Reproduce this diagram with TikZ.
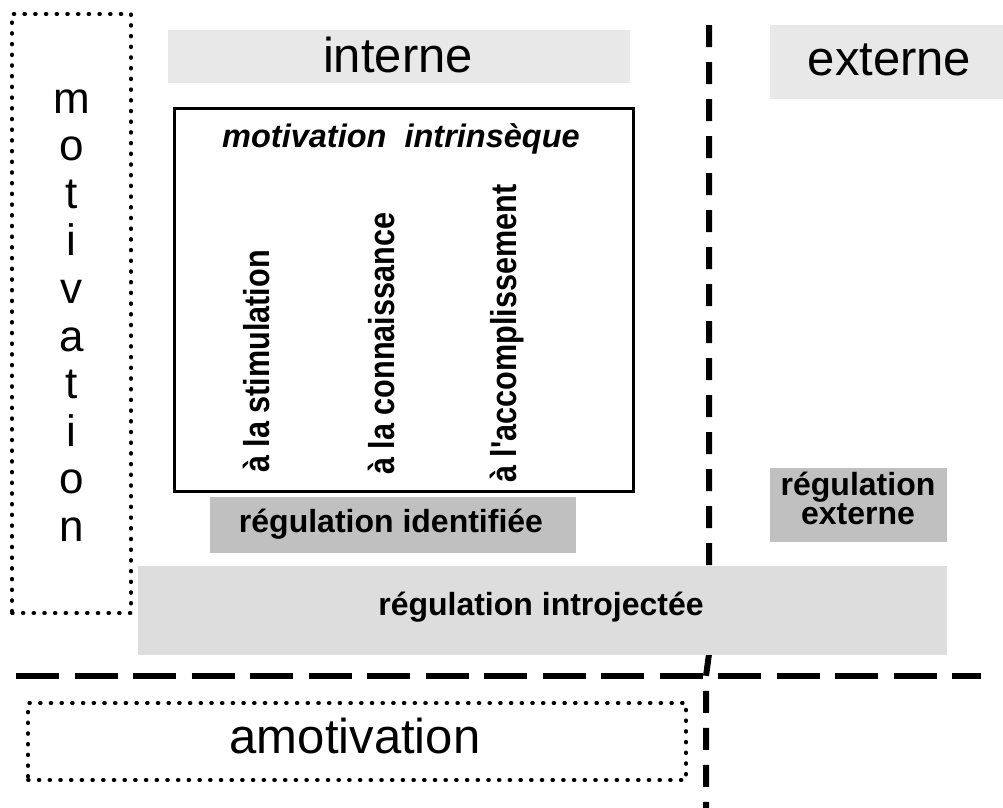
\documentclass[tikz,border=0pt]{standalone}
\usepackage{fontspec}
\setmainfont{Liberation Sans}
\definecolor{lightbox}{HTML}{E8E8E8}
\definecolor{midbox}{HTML}{DDDDDD}
\definecolor{darkbox}{HTML}{C0C0C0}
\begin{document}
\begin{tikzpicture}[x=1pt,y=-1pt,
  bigtxt/.style={inner sep=0pt, font=\fontsize{49}{52}\selectfont},
  boldtxt/.style={inner sep=0pt, font=\fontsize{32}{29}\selectfont\bfseries, align=center},
  vtxt/.style={inner sep=0pt, font=\fontsize{36}{38}\selectfont\bfseries, yscale=0.85, rotate=90, anchor=mid west},
  grayfill/.style={fill=#1, draw=none, inner sep=0pt},
  dotbox/.style={draw, line width=3.8pt, line cap=round, dash pattern=on 0.8pt off 9.9pt},
  hdash/.style={line width=6pt, dash pattern=on 43pt off 15.5pt},
  vdash/.style={line width=6pt, dash pattern=on 22pt off 15pt},
]
\useasboundingbox (0,0) rectangle (1003,807);
\fill[white] (0,0) rectangle (1003,807);

% dashed separators
\coordinate (h1) at (16,676);
\coordinate (h2) at (981,676);
\draw[hdash] (h1) -- (h2);
\coordinate (v1) at (709,25);
\coordinate (v2) at (709,654);
\coordinate (v3) at (706,676);
\coordinate (v4) at (706,820);
\draw[vdash] (v1) -- (v2) -- (v3) -- (v4);

% motivation dotted box
\node[dotbox, minimum width=119pt, minimum height=599pt, inner sep=0pt] (motbox) at (71.5,313.5) {};
\foreach \ch [count=\i from 0] in {m,o,t,i,v,a,t,i,o,n}
  \node[inner sep=0pt, font=\fontsize{44}{46}\selectfont, anchor=base] (mot\i) at (71.5,{113+47.6*\i}) {\ch};

% interne / externe
\node[grayfill=lightbox, minimum width=462pt, minimum height=53pt] (interne) at (399,56.5) {};
\node[bigtxt, anchor=base] (internetxt) at (398,72) {interne};
\node[grayfill=lightbox, minimum width=240pt, minimum height=74pt] (externe) at (890,62) {};
\node[bigtxt, anchor=base] (externetxt) at (889.5,75) {externe};

% motivation intrinseque box
\node[draw, line width=3pt, minimum width=459pt, minimum height=383pt, inner sep=0pt] (mi) at (403.5,299.5) {};
\node[inner sep=0pt, font=\fontsize{32.5}{34}\selectfont\bfseries\itshape, anchor=base] (mititle) at (401,147) {motivation\ \ intrinsèque};
\node[vtxt] (stim) at (267,473) {à la stimulation};
\node[vtxt] (conn) at (392,475) {à la connaissance};
\node[vtxt] (acc) at (514,483) {à l\textquotesingle accomplissement};

% regulations
\node[grayfill=darkbox, minimum width=366pt, minimum height=56pt] (ident) at (393,525) {};
\node[boldtxt, anchor=base] (identtxt) at (391,532) {régulation identifiée};
\node[grayfill=darkbox, minimum width=177pt, minimum height=74pt] (ext) at (858.5,505) {};
\node[boldtxt, anchor=base] (exttxt1) at (858,495) {régulation};
\node[boldtxt, anchor=base] (exttxt2) at (858,524) {externe};
\node[grayfill=midbox, minimum width=809pt, minimum height=89pt] (intro) at (542.5,610.5) {};
\node[boldtxt, anchor=base] (introtxt) at (541,615) {régulation introjectée};

% amotivation
\node[dotbox, minimum width=658pt, minimum height=77pt, inner sep=0pt] (amobox) at (357,741.5) {};
\node[bigtxt, anchor=base] (amotxt) at (355,753) {amotivation};
\end{tikzpicture}
\end{document}
